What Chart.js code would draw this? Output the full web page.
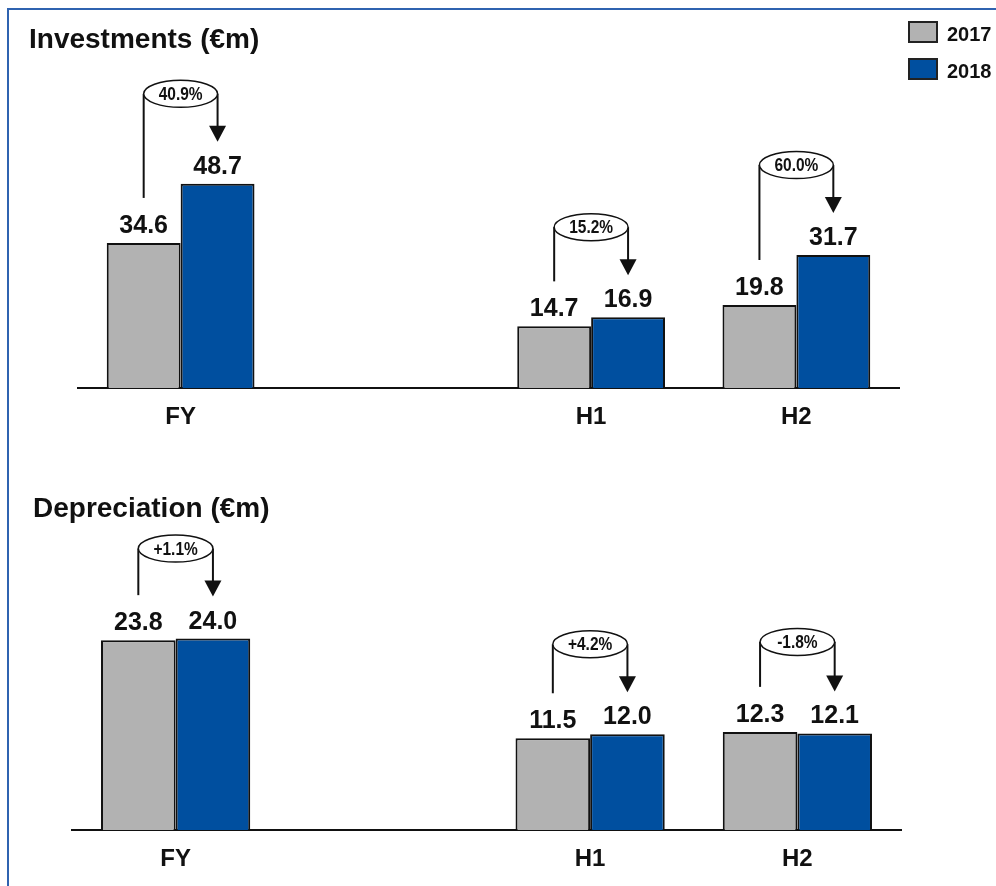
<!DOCTYPE html>
<html>
<head>
<meta charset="utf-8">
<script src="https://cdn.jsdelivr.net/npm/chart.js@4.4.0/dist/chart.umd.min.js"></script>
<style>
body{margin:0;background:#fff;width:996px;height:886px;overflow:hidden;position:relative;font-family:'Liberation Sans',Arial,sans-serif;color:#111;}
#frame{position:absolute;left:7px;top:8px;width:1000px;height:900px;border-top:2px solid #2f63b0;border-left:2px solid #2f63b0;}
.title{position:absolute;font-weight:bold;font-size:28px;line-height:28px;white-space:nowrap;}
.lg-box{position:absolute;left:908px;width:30px;height:22px;border:2px solid #222;box-sizing:border-box;}
.lg-txt{position:absolute;left:947px;font-weight:bold;font-size:20px;line-height:20px;}
canvas{position:absolute;left:0;}
</style>
</head>
<body>
<div id="frame"></div>
<canvas id="invChart" width="996" height="443" style="top:0px"></canvas>
<canvas id="depChart" width="996" height="443" style="top:443px"></canvas>
<div class="title" style="left:29px;top:25px">Investments (€m)</div>
<div class="title" style="left:33px;top:494px">Depreciation (€m)</div>
<div id="legend"></div>
<script>
var categories = ['FY', '', 'H1', 'H2'];
var seriesNames = ['2017', '2018'];
var inv2017 = [34.6, null, 14.7, 19.8];
var inv2018 = [48.7, null, 16.9, 31.7];
var invChange = ['40.9%', '', '15.2%', '60.0%'];
var dep2017 = [23.8, null, 11.5, 12.3];
var dep2018 = [24.0, null, 12.0, 12.1];
var depChange = ['+1.1%', '', '+4.2%', '-1.8%'];

var colors = ['#b2b2b2', '#004f9f'];
var fontFam = '"Liberation Sans", Arial, sans-serif';

// legend top right
var lgHtml = '';
for (var k = 0; k < seriesNames.length; k++) {
  var boxTop = 21 + k * 37;
  lgHtml += '<div class="lg-box" style="top:' + boxTop + 'px;background:' + colors[k] + '"></div>';
  lgHtml += '<div class="lg-txt" style="top:' + (boxTop + 2.5) + 'px">' + seriesNames[k] + '</div>';
}
document.getElementById('legend').innerHTML = lgHtml;

// value labels + change bubbles with arrows
var annotPlugin = {
  id: 'annot',
  afterDatasetsDraw: function (chart, args, opts) {
    var ctx = chart.ctx;
    var m0 = chart.getDatasetMeta(0);
    var m1 = chart.getDatasetMeta(1);
    ctx.save();
    ctx.fillStyle = '#111';
    ctx.textAlign = 'center';
    ctx.textBaseline = 'alphabetic';
    ctx.font = 'bold 25px ' + fontFam;
    [m0, m1].forEach(function (m, di) {
      m.data.forEach(function (bar, i) {
        var v = chart.data.datasets[di].data[i];
        if (v == null) return;
        ctx.fillText(v.toFixed(1), bar.x, bar.y - 10);
      });
    });
    var changes = opts.changes;
    for (var i = 0; i < changes.length; i++) {
      if (!changes[i]) continue;
      var g = m0.data[i], b = m1.data[i];
      var cx = (g.x + b.x) / 2;
      var rx = (b.x - g.x) / 2;
      var cy = Math.min(g.y, b.y) - 90;
      var tip = b.y - 42;
      ctx.strokeStyle = '#111';
      ctx.lineWidth = 2;
      ctx.beginPath();
      ctx.moveTo(g.x, cy);
      ctx.lineTo(g.x, g.y - 45);
      ctx.stroke();
      ctx.beginPath();
      ctx.moveTo(b.x, cy);
      ctx.lineTo(b.x, tip - 14);
      ctx.stroke();
      ctx.beginPath();
      ctx.moveTo(b.x - 8.5, tip - 16);
      ctx.lineTo(b.x + 8.5, tip - 16);
      ctx.lineTo(b.x, tip);
      ctx.closePath();
      ctx.fillStyle = '#111';
      ctx.fill();
      ctx.beginPath();
      ctx.ellipse(cx, cy, rx, 13.5, 0, 0, Math.PI * 2);
      ctx.fillStyle = '#fff';
      ctx.fill();
      ctx.lineWidth = 1.5;
      ctx.stroke();
      // condensed look of the bubble text
      ctx.save();
      ctx.translate(cx, cy + 1);
      ctx.scale(0.86, 1);
      ctx.fillStyle = '#111';
      ctx.textBaseline = 'middle';
      ctx.font = 'bold 18px ' + fontFam;
      ctx.fillText(changes[i], 0, 0);
      ctx.restore();
    }
    ctx.restore();
  }
};

function makeChart(id, d17, d18, changes, yMax, padL, padR, axisH) {
  var ctx = document.getElementById(id).getContext('2d');
  return new Chart(ctx, {
    type: 'bar',
    data: {
      labels: categories,
      datasets: [{
        label: seriesNames[0],
        data: d17,
        backgroundColor: colors[0],
        borderColor: '#111',
        borderWidth: 2,
        categoryPercentage: 0.72,
        barPercentage: 1
      }, {
        label: seriesNames[1],
        data: d18,
        backgroundColor: colors[1],
        borderColor: '#111',
        borderWidth: 2,
        categoryPercentage: 0.72,
        barPercentage: 1
      }]
    },
    options: {
      responsive: false,
      animation: false,
      layout: { padding: { left: padL, right: padR, top: 40, bottom: 0 } },
      plugins: {
        legend: { display: false },
        tooltip: { enabled: false },
        annot: { changes: changes }
      },
      scales: {
        x: {
          grid: { display: false, drawTicks: false },
          border: { display: true, color: '#111', width: 2 },
          ticks: { color: '#111', padding: 15, font: { family: fontFam, size: 24, weight: 'bold' } },
          afterFit: function (s) { s.height = axisH; }
        },
        y: { display: false, min: 0, max: yMax }
      }
    },
    plugins: [annotPlugin]
  });
}

makeChart('invChart', inv2017, inv2018, invChange, 83, 78, 97, 55);
makeChart('depChart', dep2017, dep2018, depChange, 43.5, 72, 95, 56);
</script>
</body>
</html>
